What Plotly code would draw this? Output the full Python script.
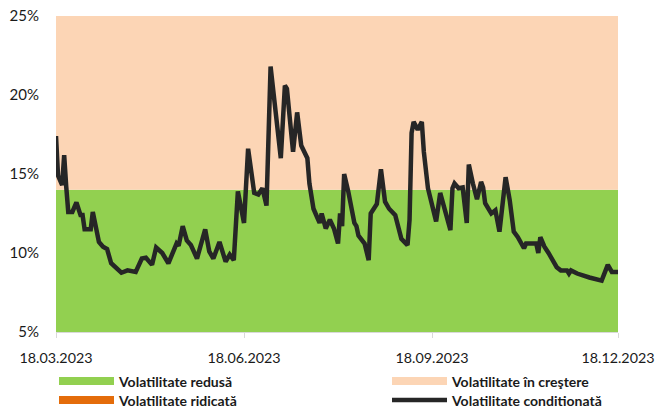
import plotly.graph_objects as go

dates = [
    "2023-03-18", "2023-03-19", "2023-03-21", "2023-03-22", "2023-03-23", "2023-03-24",
    "2023-03-26", "2023-03-28", "2023-03-30", "2023-03-31", "2023-04-01", "2023-04-04",
    "2023-04-05", "2023-04-06", "2023-04-08", "2023-04-10", "2023-04-12", "2023-04-14",
    "2023-04-19", "2023-04-22", "2023-04-26", "2023-04-29", "2023-05-01", "2023-05-04",
    "2023-05-06", "2023-05-09", "2023-05-12", "2023-05-16", "2023-05-17", "2023-05-19",
    "2023-05-21", "2023-05-23", "2023-05-26", "2023-05-30", "2023-06-01", "2023-06-03",
    "2023-06-06", "2023-06-09", "2023-06-11", "2023-06-13", "2023-06-15", "2023-06-18",
    "2023-06-20", "2023-06-23", "2023-06-25", "2023-06-27", "2023-06-29", "2023-07-01",
    "2023-07-06", "2023-07-08", "2023-07-09", "2023-07-12", "2023-07-14", "2023-07-16",
    "2023-07-19", "2023-07-20", "2023-07-22", "2023-07-24", "2023-07-25", "2023-07-26",
    "2023-07-28", "2023-07-30", "2023-08-01", "2023-08-03", "2023-08-04", "2023-08-05",
    "2023-08-06", "2023-08-08", "2023-08-11", "2023-08-12", "2023-08-13", "2023-08-16",
    "2023-08-18", "2023-08-19", "2023-08-22", "2023-08-24", "2023-08-26", "2023-08-28",
    "2023-08-31", "2023-09-03", "2023-09-06", "2023-09-07", "2023-09-08", "2023-09-09",
    "2023-09-11", "2023-09-13", "2023-09-14", "2023-09-16", "2023-09-18", "2023-09-20",
    "2023-09-22", "2023-09-24", "2023-09-27", "2023-09-28", "2023-09-29", "2023-10-01",
    "2023-10-03", "2023-10-05", "2023-10-06", "2023-10-08", "2023-10-10", "2023-10-12",
    "2023-10-13", "2023-10-14", "2023-10-17", "2023-10-19", "2023-10-21", "2023-10-24",
    "2023-10-26", "2023-10-28", "2023-10-30", "2023-11-02", "2023-11-03", "2023-11-08",
    "2023-11-09", "2023-11-10", "2023-11-12", "2023-11-14", "2023-11-18", "2023-11-20",
    "2023-11-23", "2023-11-24", "2023-11-25", "2023-11-28", "2023-12-01", "2023-12-04",
    "2023-12-10", "2023-12-13", "2023-12-15", "2023-12-18",
]

volatilitate_conditionata = [
    17.4, 14.9, 14.3, 16.2, 14.2, 12.6,
    12.6, 13.2, 12.4, 12.4, 11.5, 11.5,
    12.6, 11.9, 10.7, 10.4, 10.25, 9.35,
    8.75, 8.9, 8.8, 9.65, 9.7, 9.25,
    10.35, 10.0, 9.35, 10.6, 10.45, 11.7,
    10.8, 10.5, 9.65, 11.5, 10.1, 9.65,
    10.7, 9.45, 9.9, 9.55, 13.9, 11.9,
    16.6, 13.8, 13.7, 14.1, 13.0, 21.8,
    16.0, 20.6, 20.4, 16.4, 18.9, 16.8,
    16.0, 14.4, 12.8, 12.2, 11.9, 12.5,
    11.55, 12.1, 11.55, 10.6, 12.5, 11.7,
    15.0, 13.9, 11.9, 11.7, 11.1, 10.6,
    9.55, 12.5, 13.1, 15.3, 13.25, 12.8,
    12.4, 10.9, 10.5, 12.1, 17.6, 18.3,
    17.8, 18.3, 16.4, 14.1, 13.15, 12.0,
    13.8, 12.9, 11.45, 14.1, 14.4, 14.1,
    14.15, 11.9, 15.6, 14.4, 13.4, 14.5,
    14.15, 13.15, 12.5, 12.7, 11.35, 14.8,
    13.35, 11.35, 11.0, 10.3, 10.6, 10.6,
    10.0, 11.0, 10.4, 10.0, 9.1, 8.9,
    8.9, 8.7, 8.9, 8.7, 8.55, 8.45,
    8.25, 9.25, 8.8, 8.8,
]

band_edges = [5, 14, 25]  # redusă: 5-14, în creştere: 14-25
x_ticks = ["2023-03-18", "2023-06-18", "2023-09-18", "2023-12-18"]
x_tick_labels = ["18.03.2023", "18.06.2023", "18.09.2023", "18.12.2023"]
y_ticks = [5, 10, 15, 20, 25]
y_tick_labels = ["5%", "10%", "15%", "20%", "25%"]

series_names = ["Volatilitate redusă", "Volatilitate în creştere",
                "Volatilitate ridicată", "Volatilitate conditionată"]
GREEN = "#92D050"
PEACH = "#FCD5B5"
ORANGE = "#E46C0A"
LINE = "#262626"
AXIS = "#D9D9D9"
TEXT = "#1a1a1a"
FONT = "Lato, Carlito, 'Liberation Sans', sans-serif"

fig = go.Figure()

# legend-only swatches for the bands (each entry has its own legend box)
legend_ids = ["legend", "legend2", "legend3", "legend4"]
swatch_colors = [GREEN, PEACH, ORANGE]
for i in range(3):
    fig.add_trace(go.Scatter(x=[None], y=[None], mode="lines", name=series_names[i],
                             legend=legend_ids[i],
                             line=dict(color=swatch_colors[i], width=8)))

fig.add_trace(go.Scatter(x=dates, y=volatilitate_conditionata, mode="lines",
                         name=series_names[3], legend=legend_ids[3],
                         line=dict(color=LINE, width=4.5)))

# bands
band_colors = [GREEN, PEACH]
for i, col in enumerate(band_colors):
    fig.add_shape(type="rect", xref="x", yref="y", x0=x_ticks[0], x1=x_ticks[-1],
                  y0=band_edges[i], y1=band_edges[i + 1], fillcolor=col,
                  line=dict(width=0), layer="below")

W, H = 663, 408
legend_font = dict(family=FONT, size=14, color=TEXT, weight="bold")


def leg(left_px, center_px):
    return dict(xref="container", yref="container",
                x=left_px / W, xanchor="left",
                y=1 - center_px / H, yanchor="middle",
                orientation="v", itemwidth=55, font=legend_font,
                bgcolor="rgba(0,0,0,0)", borderwidth=0)


fig.update_layout(
    width=W, height=H,
    margin=dict(l=56, r=45, t=16, b=76, autoexpand=False),
    paper_bgcolor="white", plot_bgcolor="white",
    font=dict(family=FONT, color=TEXT),
    showlegend=True,
    legend=leg(54, 381.5),
    legend2=leg(387, 381.5),
    legend3=leg(54, 400.5),
    legend4=leg(387, 400.5),
    xaxis=dict(type="date", range=[x_ticks[0], x_ticks[-1]],
               tickvals=x_ticks, ticktext=x_tick_labels,
               ticks="outside", ticklen=5, tickcolor=AXIS,
               showline=True, linecolor=AXIS, linewidth=1,
               showgrid=False, zeroline=False, automargin=False,
               ticklabelstandoff=8,
               tickfont=dict(size=14.3, family=FONT, color=TEXT)),
    yaxis=dict(range=[5, 25], tickvals=y_ticks, ticktext=y_tick_labels,
               showgrid=False, zeroline=False, ticks="", showline=False,
               automargin=False, ticklabelstandoff=16,
               tickfont=dict(size=15, family=FONT, color=TEXT)),
    yaxis2=dict(range=[5, 25], overlaying="y", side="right", tickvals=y_ticks,
                showticklabels=False, ticks="outside", ticklen=5, tickcolor=AXIS,
                showline=True, linecolor=AXIS, showgrid=False, zeroline=False,
                automargin=False),
)

fig.write_html("out.html",
               config={"displayModeBar": False},
               post_script="document.body.style.margin='0';"
                           "document.body.style.overflow='hidden';")
